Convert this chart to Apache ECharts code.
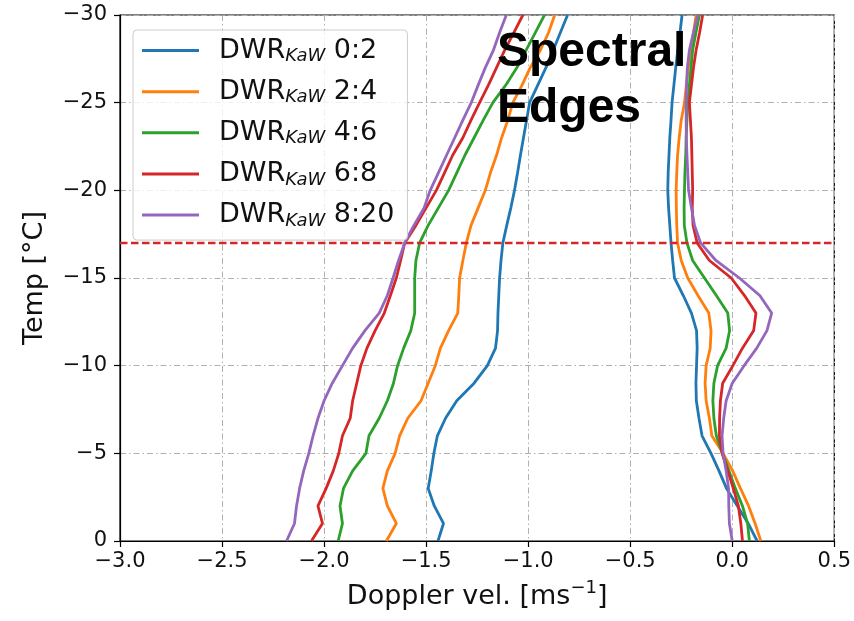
<!DOCTYPE html>
<html><head><meta charset="utf-8">
<script src="https://cdn.jsdelivr.net/npm/echarts@6/dist/echarts.min.js"></script>
<style>html,body{margin:0;padding:0;background:#fff}#c{width:854px;height:621px}</style>
</head><body><div id="c"></div>
<script>
// Temperature levels (°C), top to bottom of the profile
const temps = [-30,-29,-28,-27,-26,-25,-24,-23,-22,-21,-20,-19,-18,-17,-16,-15,-14,-13,-12,-11,-10,-9,-8,-7,-6,-5,-4,-3,-2,-1,0];

// Class labels
const classes = ['0:2','2:4','4:6','6:8','8:20'];
const colors = ['#1f77b4','#ff7f0e','#2ca02c','#d62728','#9467bd'];

// Left (fast) spectral edge, Doppler velocity [m/s]
const left_0_2  = [-0.807,-0.842,-0.877,-0.913,-0.953,-0.993,-1.008,-1.023,-1.038,-1.052,-1.067,-1.085,-1.105,-1.124,-1.133,-1.140,-1.144,-1.148,-1.150,-1.160,-1.200,-1.265,-1.350,-1.405,-1.445,-1.462,-1.475,-1.490,-1.460,-1.415,-1.442];
const left_2_4  = [-0.870,-0.900,-0.940,-0.990,-1.030,-1.075,-1.100,-1.130,-1.155,-1.185,-1.210,-1.245,-1.280,-1.303,-1.320,-1.336,-1.340,-1.345,-1.390,-1.430,-1.455,-1.490,-1.525,-1.590,-1.630,-1.652,-1.690,-1.712,-1.690,-1.646,-1.695];
const left_4_6  = [-0.920,-0.965,-1.010,-1.055,-1.110,-1.173,-1.220,-1.265,-1.310,-1.350,-1.390,-1.440,-1.490,-1.532,-1.550,-1.556,-1.556,-1.556,-1.575,-1.610,-1.640,-1.660,-1.690,-1.730,-1.780,-1.795,-1.860,-1.905,-1.922,-1.910,-1.931];
const left_6_8  = [-1.026,-1.070,-1.115,-1.155,-1.195,-1.238,-1.280,-1.320,-1.370,-1.410,-1.450,-1.500,-1.550,-1.605,-1.625,-1.646,-1.675,-1.705,-1.750,-1.790,-1.820,-1.840,-1.860,-1.872,-1.910,-1.928,-1.955,-1.990,-2.030,-2.008,-2.062];
const left_8_20 = [-1.107,-1.140,-1.170,-1.210,-1.245,-1.279,-1.320,-1.360,-1.400,-1.440,-1.480,-1.510,-1.560,-1.605,-1.635,-1.662,-1.690,-1.730,-1.800,-1.860,-1.910,-1.960,-2.000,-2.030,-2.054,-2.075,-2.100,-2.120,-2.135,-2.145,-2.184];

// Right (slow) spectral edge, Doppler velocity [m/s]
const right_0_2  = [-0.246,-0.256,-0.267,-0.277,-0.286,-0.295,-0.300,-0.306,-0.310,-0.314,-0.316,-0.312,-0.306,-0.300,-0.292,-0.283,-0.240,-0.200,-0.175,-0.172,-0.175,-0.178,-0.176,-0.163,-0.148,-0.104,-0.065,-0.028,0.025,0.078,0.122];
const right_2_4  = [-0.177,-0.190,-0.202,-0.215,-0.225,-0.234,-0.250,-0.260,-0.268,-0.272,-0.275,-0.274,-0.272,-0.268,-0.250,-0.218,-0.168,-0.115,-0.104,-0.108,-0.128,-0.133,-0.128,-0.112,-0.100,-0.045,0.002,0.040,0.080,0.112,0.140];
const right_4_6  = [-0.161,-0.178,-0.194,-0.202,-0.210,-0.218,-0.222,-0.226,-0.228,-0.232,-0.234,-0.236,-0.235,-0.222,-0.194,-0.136,-0.078,-0.022,-0.013,-0.030,-0.072,-0.090,-0.095,-0.090,-0.078,-0.048,-0.016,0.015,0.050,0.075,0.084];
const right_6_8  = [-0.145,-0.160,-0.177,-0.190,-0.200,-0.210,-0.205,-0.200,-0.198,-0.196,-0.194,-0.196,-0.192,-0.172,-0.112,-0.005,0.060,0.116,0.105,0.050,0.003,-0.047,-0.058,-0.062,-0.063,-0.050,-0.022,0.005,0.030,0.042,0.050];
const right_8_20 = [-0.169,-0.190,-0.210,-0.220,-0.224,-0.226,-0.226,-0.225,-0.222,-0.218,-0.214,-0.200,-0.185,-0.155,-0.080,0.035,0.135,0.193,0.170,0.120,0.058,0.000,-0.030,-0.042,-0.050,-0.045,-0.030,-0.018,-0.017,-0.014,0.000];

// Marked temperature level
const markTemp = -17;

const leftEdges = [left_0_2,left_2_4,left_4_6,left_6_8,left_8_20];
const rightEdges = [right_0_2,right_2_4,right_4_6,right_6_8,right_8_20];

const minus = '\u2212';
function pairs(arr){ return arr.map((v,i)=>[v,temps[i]]); }

const series = [];
classes.forEach((c,k)=>{
  [leftEdges[k], rightEdges[k]].forEach((edge,j)=>{
    const s = {
      name: c, type: 'line', data: pairs(edge), symbol: 'none', showSymbol: false,
      lineStyle: {color: colors[k], width: 2.8}, itemStyle: {color: colors[k]},
      emphasis: {disabled: true}, z: 3
    };
    if (k===0 && j===0) {
      s.markLine = {
        silent: true, symbol: ['none','none'], label: {show:false},
        lineStyle: {color:'#d62728', type:[7.5,3.5], width:2.3},
        emphasis: {disabled:true},
        data: [{yAxis: markTemp}]
      };
    }
    series.push(s);
  });
});

const chart = echarts.init(document.getElementById('c'), null, {renderer:'canvas'});
const font = '"DejaVu Sans", sans-serif';
chart.setOption({
  animation: false,
  backgroundColor: '#fff',
  grid: {left:120, right:19, top:15, bottom:80, show:true, borderColor:'#000', borderWidth:1.2, backgroundColor:'transparent'},
  xAxis: {
    type:'value', min:-3, max:0.5, interval:0.5,
    name:'Doppler vel. [ms{sup|\u22121}]', nameLocation:'middle', nameGap:38,
    nameTextStyle:{fontSize:27, fontFamily:font, color:'#111', lineHeight:36,
      rich:{sup:{fontSize:18, fontFamily:font, color:'#111', verticalAlign:'top', lineHeight:20}}},
    axisLine:{show:true, onZero:false, lineStyle:{color:'#000', width:1.2}},
    axisTick:{show:true, length:6, lineStyle:{color:'#000', width:1.2}},
    axisLabel:{fontSize:21, fontFamily:font, color:'#111', margin:10,
      formatter: v => (v<0 ? minus : '') + Math.abs(v).toFixed(1)},
    splitLine:{show:true, lineStyle:{color:'#b0b0b0', width:1, type:[6,3,1.5,3]}}
  },
  yAxis: {
    type:'value', min:-30, max:0, interval:5, inverse:true,
    name:'Temp [°C]', nameLocation:'middle', nameGap:72, nameRotate:90,
    nameTextStyle:{fontSize:27, fontFamily:font, color:'#111'},
    axisLine:{show:true, onZero:false, lineStyle:{color:'#000', width:1.2}},
    axisTick:{show:true, length:6, lineStyle:{color:'#000', width:1.2}},
    axisLabel:{fontSize:21, fontFamily:font, color:'#111', margin:13,
      formatter: v => (v<0 ? minus + Math.abs(v) : String(v))},
    splitLine:{show:true, lineStyle:{color:'#b0b0b0', width:1, type:[6,3,1.5,3]}}
  },
  legend: {
    data: classes, orient:'vertical', left:133, top:30,
    icon:'rect', itemWidth:57, itemHeight:3, itemGap:12.65,
    padding:[7,13,10,9], backgroundColor:'rgba(255,255,255,0.8)',
    borderColor:'#cccccc', borderWidth:1, borderRadius:4, selectedMode:false,
    formatter: n => '{g|}{a|DWR}{s|KaW}{a| ' + n + '}',
    textStyle:{rich:{
      g:{width:15},
      a:{fontSize:27, fontFamily:font, color:'#111', lineHeight:30},
      s:{fontSize:18, fontFamily:font, fontStyle:'italic', color:'#111', lineHeight:18, verticalAlign:'bottom'}
    }}
  },
  graphic: [
    {type:'text', x:497, y:52.5, z:100, style:{text:'Spectral', font:'bold 48px "Liberation Sans", Arial, sans-serif', fill:'#000', align:'left', verticalAlign:'middle'}},
    {type:'text', x:497, y:109, z:100, style:{text:'Edges', font:'bold 48px "Liberation Sans", Arial, sans-serif', fill:'#000', align:'left', verticalAlign:'middle'}}
  ],
  series: series
});
</script>
</body></html>
